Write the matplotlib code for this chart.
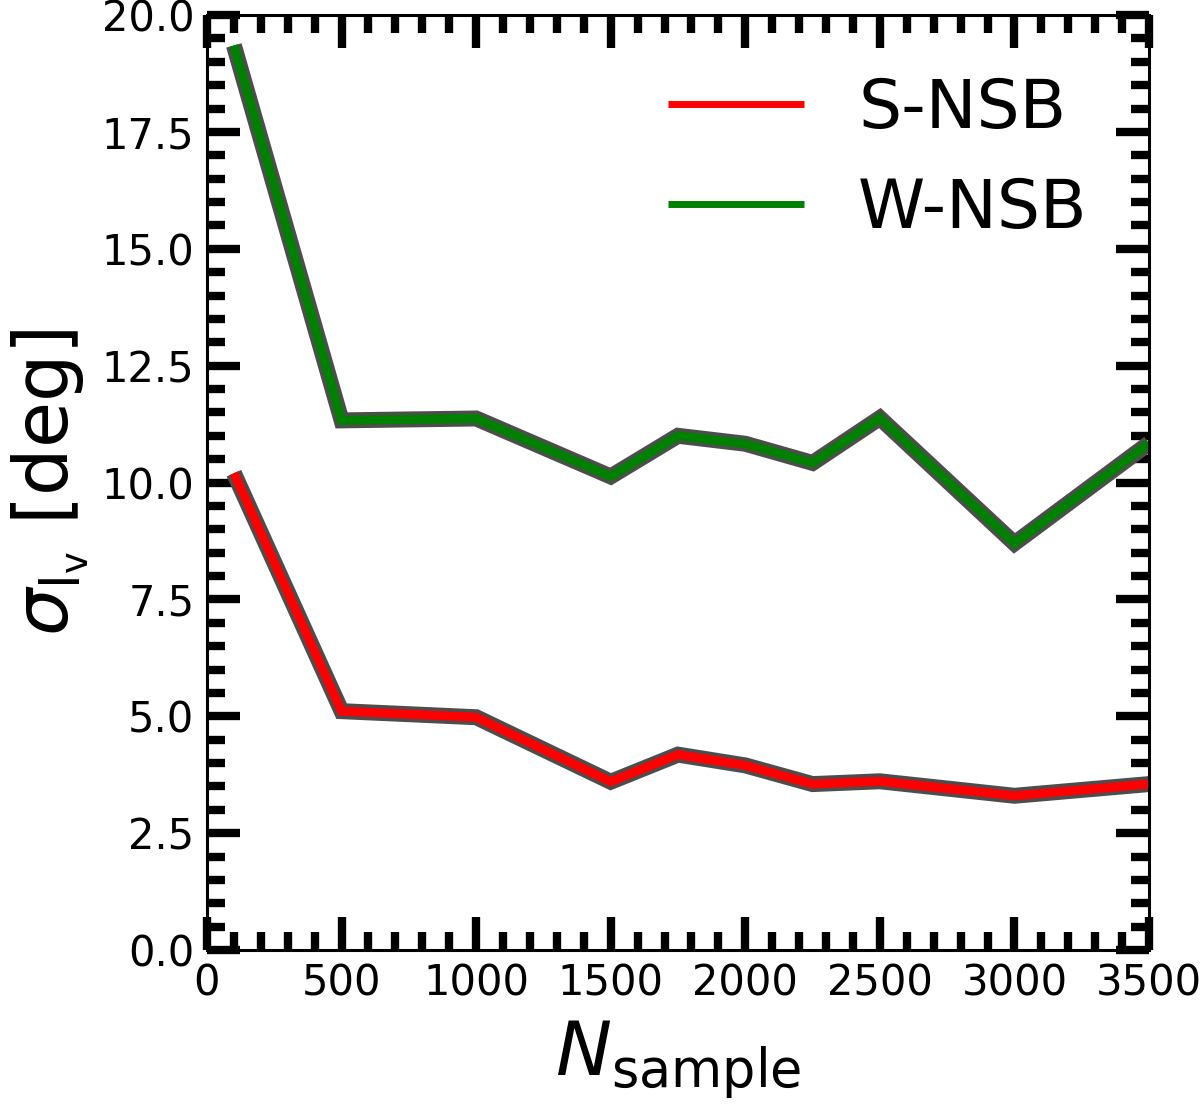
import matplotlib
matplotlib.use("Agg")
import matplotlib.pyplot as plt
from matplotlib.ticker import MultipleLocator

n_sample = [100, 500, 1000, 1500, 1750, 2000, 2250, 2500, 3000, 3500]
s_nsb = [10.2, 5.11, 4.98, 3.6, 4.18, 3.95, 3.55, 3.61, 3.3, 3.55]
w_nsb = [19.35, 11.33, 11.37, 10.13, 11.0, 10.83, 10.42, 11.38, 8.7, 10.84]

fig = plt.figure(figsize=(12, 11.06), dpi=100)
ax = fig.add_axes([0.1725, 0.141, 0.785, 0.8454])

for y, c, lab in [(s_nsb, 'red', 'S-NSB'), (w_nsb, 'green', 'W-NSB')]:
    ax.plot(n_sample, y, color='#4d4d4d', lw=11.5, solid_joinstyle='miter', solid_capstyle='butt')
    ax.plot(n_sample, y, color=c, lw=6.5, label=lab, solid_joinstyle='miter', solid_capstyle='butt')

ax.set_xlim(0, 3500)
ax.set_ylim(0, 20)
ax.xaxis.set_major_locator(MultipleLocator(500))
ax.xaxis.set_minor_locator(MultipleLocator(100))
ax.yaxis.set_major_locator(MultipleLocator(2.5))
ax.yaxis.set_minor_locator(MultipleLocator(0.5))
ax.tick_params(which='both', direction='in', top=True, right=True, labelsize=30, pad=9)
ax.tick_params(which='major', length=24, width=6)
ax.tick_params(which='minor', length=13, width=6)
for s in ax.spines.values():
    s.set_linewidth(2.2)

ax.set_xlabel(r'$N_{\rm sample}$', fontsize=54, labelpad=10)
ax.set_ylabel(r'$\sigma_{\rm l_v}$ [deg]', fontsize=54, labelpad=8)
leg = ax.legend(loc='upper right', frameon=False, fontsize=49)
for ln in leg.get_lines():
    ln.set_linewidth(5)

fig.savefig('out.png', dpi=100)
